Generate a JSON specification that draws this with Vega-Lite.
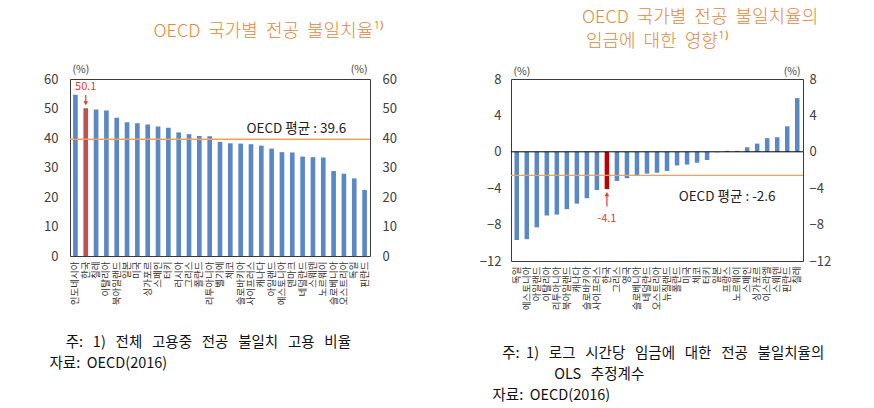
{
  "$schema": "https://vega.github.io/schema/vega-lite/v6.json",
  "background": "white",
  "padding": {"left": 43, "top": 8, "right": 0, "bottom": 0},
  "spacing": 81,
  "config": {
    "font": "Noto Sans CJK KR",
    "view": {"stroke": "#3a3a3a", "strokeWidth": 1},
    "axis": {"grid": false, "domain": false, "ticks": false, "labelFont": "Noto Sans CJK KR", "titleFont": "Noto Sans CJK KR", "labelColor": "#404040", "titleColor": "#404040", "titleFontWeight": "normal"},
    "title": {"font": "Noto Sans CJK KR", "fontWeight": 300, "color": "#E6873B", "fontSize": 18},
    "text": {"fontWeight": "normal", "font": "Noto Sans CJK KR"}
  },
  "hconcat": [
    {
      "width": 300,
      "height": 177,
      "title": {"text": "OECD\u00a0 국가별\u00a0 전공\u00a0 불일치율¹⁾", "anchor": "middle", "frame": "group", "dx": 49, "offset": 23},
      "data": {"values": [
        {"country": "인도네시아", "value": 54.7},
        {"country": "한국", "value": 50.1},
        {"country": "칠레", "value": 49.7},
        {"country": "이탈리아", "value": 49.3},
        {"country": "북아일랜드", "value": 46.9},
        {"country": "일본", "value": 45.3},
        {"country": "미국", "value": 45.0},
        {"country": "싱가포르", "value": 44.6},
        {"country": "스페인", "value": 43.9},
        {"country": "터키", "value": 43.5},
        {"country": "러시아", "value": 41.9},
        {"country": "그리스", "value": 41.3},
        {"country": "폴란드", "value": 40.7},
        {"country": "리투아니아", "value": 40.6},
        {"country": "벨기에", "value": 38.7},
        {"country": "체코", "value": 38.2},
        {"country": "슬로바키아", "value": 38.1},
        {"country": "사이프러스", "value": 37.9},
        {"country": "캐나다", "value": 37.4},
        {"country": "아일랜드", "value": 36.4},
        {"country": "에스토니아", "value": 35.2},
        {"country": "덴마크", "value": 35.1},
        {"country": "네덜란드", "value": 33.7},
        {"country": "스웨덴", "value": 33.5},
        {"country": "노르웨이", "value": 33.4},
        {"country": "슬로베니아", "value": 28.8},
        {"country": "오스트리아", "value": 27.9},
        {"country": "독일", "value": 26.3},
        {"country": "핀란드", "value": 22.4}
      ]},
      "resolve": {"axis": {"y": "independent"}},
      "layer": [
        {
          "mark": {"type": "bar"},
          "encoding": {
            "x": {"field": "country", "type": "nominal", "sort": null,
              "scale": {"paddingInner": 0.55, "paddingOuter": 0.3},
              "axis": {"labelAngle": 270, "labelFontSize": 9.5, "labelPadding": 5, "labelColor": "#333333",
                "title": ["\u200b\u00a0\u00a0\u00a0\u00a0\u00a0주:\u00a0\u00a0 1)\u00a0\u00a0 전체\u00a0\u00a0 고용중\u00a0\u00a0 전공\u00a0\u00a0 불일치\u00a0\u00a0 고용\u00a0\u00a0 비율", "자료:\u00a0 OECD(2016)"],
                "titleAnchor": "start", "titleAlign": "left", "titleX": -21, "titleY": 79, "titleBaseline": "top",
                "titleFontSize": 14.5, "titleColor": "#111111", "titleLineHeight": 21}},
            "y": {"field": "value", "type": "quantitative", "scale": {"domain": [0, 60]},
              "axis": {"orient": "left", "values": [0, 10, 20, 30, 40, 50, 60], "labelFontSize": 13, "labelPadding": 12,
                "title": "(%)", "titleAngle": 0, "titleAlign": "left", "titleBaseline": "middle", "titleX": 2, "titleY": -10, "titleFontSize": 10.5}},
            "color": {"condition": {"test": "datum.country === '한국'", "value": "#C0504D"}, "value": "#5A87C5"}
          }
        },
        {
          "data": {"values": [{}]},
          "mark": {"type": "rule", "color": "#F5A05A", "strokeWidth": 1.5},
          "encoding": {
            "y": {"datum": 39.6, "type": "quantitative",
              "axis": {"orient": "right", "values": [0, 10, 20, 30, 40, 50, 60], "labelFontSize": 13, "labelPadding": 12,
                "title": "(%)", "titleAngle": 0, "titleAlign": "right", "titleBaseline": "middle", "titleX": -3, "titleY": -10, "titleFontSize": 10.5}}
          }
        },
        {
          "data": {"values": [{}]},
          "mark": {"type": "text", "fontSize": 13.5, "fill": "#222222", "fontWeight": "normal", "baseline": "middle", "dy": -10, "dx": 4},
          "encoding": {
            "x": {"datum": "덴마크", "type": "nominal"},
            "y": {"datum": 39.6, "type": "quantitative", "axis": null},
            "text": {"value": "OECD 평균 : 39.6"}
          }
        },
        {
          "data": {"values": [{}]},
          "mark": {"type": "text", "fontSize": 11, "fill": "#E03C31", "fontWeight": "normal", "baseline": "middle"},
          "encoding": {
            "x": {"datum": "한국", "type": "nominal"},
            "y": {"datum": 57.4, "type": "quantitative", "axis": null},
            "text": {"value": "50.1"}
          }
        },
        {
          "data": {"values": [{}]},
          "mark": {"type": "rule", "color": "#E03C31", "strokeWidth": 1.2},
          "encoding": {
            "x": {"datum": "한국", "type": "nominal"},
            "y": {"datum": 54.6, "type": "quantitative", "axis": null},
            "y2": {"datum": 52.0}
          }
        },
        {
          "data": {"values": [{}]},
          "mark": {"type": "point", "shape": "triangle-down", "filled": true, "color": "#E03C31", "size": 22, "opacity": 1},
          "encoding": {
            "x": {"datum": "한국", "type": "nominal"},
            "y": {"datum": 51.8, "type": "quantitative", "axis": null}
          }
        }
      ]
    },
    {
      "width": 292,
      "height": 182,
      "title": {"text": ["OECD\u00a0 국가별\u00a0 전공\u00a0 불일치율의", "\u200b\u00a0임금에\u00a0 대한\u00a0 영향¹⁾"], "anchor": "start", "frame": "group", "dx": 71, "offset": 15, "lineHeight": 24},
      "data": {"values": [
        {"country": "독일", "value": -9.7},
        {"country": "에스토니아", "value": -9.6},
        {"country": "아일랜드", "value": -8.3},
        {"country": "이탈리아", "value": -7.0},
        {"country": "리투아니아", "value": -6.9},
        {"country": "북아일랜드", "value": -6.3},
        {"country": "캐나다", "value": -5.7},
        {"country": "슬로바키아", "value": -5.1},
        {"country": "사이프러스", "value": -4.2},
        {"country": "한국", "value": -4.1},
        {"country": "그리스", "value": -3.2},
        {"country": "영국", "value": -2.9},
        {"country": "슬로베니아", "value": -2.6},
        {"country": "네덜란드", "value": -2.4},
        {"country": "오스트리아", "value": -2.3},
        {"country": "뉴질랜드", "value": -2.1},
        {"country": "폴란드", "value": -1.5},
        {"country": "미국", "value": -1.4},
        {"country": "체코", "value": -1.2},
        {"country": "터키", "value": -0.9},
        {"country": "일본", "value": -0.05},
        {"country": "프랑스", "value": 0.1},
        {"country": "노르웨이", "value": 0.1},
        {"country": "스페인", "value": 0.5},
        {"country": "싱가포르", "value": 0.9},
        {"country": "이스라엘", "value": 1.5},
        {"country": "스웨덴", "value": 1.6},
        {"country": "핀란드", "value": 2.8},
        {"country": "칠레", "value": 5.9}
      ]},
      "resolve": {"axis": {"y": "independent"}},
      "layer": [
        {
          "mark": {"type": "bar"},
          "encoding": {
            "x": {"field": "country", "type": "nominal", "sort": null,
              "scale": {"paddingInner": 0.55, "paddingOuter": 0.35},
              "axis": {"labelAngle": 270, "labelFontSize": 9.5, "labelPadding": 5, "labelColor": "#333333",
                "title": ["\u200b\u00a0\u00a0\u00a0주:\u00a0 1)\u00a0\u00a0 로그\u00a0\u00a0 시간당\u00a0\u00a0 임금에\u00a0\u00a0 대한\u00a0\u00a0 전공\u00a0\u00a0 불일치율의", "\u200b\u00a0\u00a0\u00a0\u00a0\u00a0\u00a0\u00a0\u00a0\u00a0\u00a0\u00a0\u00a0\u00a0\u00a0\u00a0\u00a0\u00a0\u00a0\u00a0OLS\u00a0\u00a0 추정계수", "자료:\u00a0 OECD(2016)"],
                "titleAnchor": "start", "titleAlign": "left", "titleX": -19, "titleY": 85, "titleBaseline": "top",
                "titleFontSize": 14.5, "titleColor": "#111111", "titleLineHeight": 21}},
            "y": {"field": "value", "type": "quantitative", "scale": {"domain": [-12, 8]},
              "axis": {"orient": "left", "values": [8, 4, 0, -4, -8, -12], "labelFontSize": 13, "labelPadding": 10,
                "title": "(%)", "titleAngle": 0, "titleAlign": "left", "titleBaseline": "middle", "titleX": 2, "titleY": -8, "titleFontSize": 10.5}},
            "color": {"condition": {"test": "datum.country === '한국'", "value": "#C00000"}, "value": "#5A87C5"}
          }
        },
        {
          "data": {"values": [{}]},
          "mark": {"type": "rule", "color": "#000000", "strokeWidth": 1},
          "encoding": {
            "y": {"datum": 0, "type": "quantitative", "axis": null}
          }
        },
        {
          "data": {"values": [{}]},
          "mark": {"type": "rule", "color": "#F5A05A", "strokeWidth": 1.3},
          "encoding": {
            "y": {"datum": -2.6, "type": "quantitative",
              "axis": {"orient": "right", "values": [8, 4, 0, -4, -8, -12], "labelFontSize": 13, "labelPadding": 6,
                "title": "(%)", "titleAngle": 0, "titleAlign": "right", "titleBaseline": "middle", "titleX": -3, "titleY": -8, "titleFontSize": 10.5}}
          }
        },
        {
          "data": {"values": [{}]},
          "mark": {"type": "text", "fontSize": 13.5, "fill": "#222222", "fontWeight": "normal", "baseline": "middle"},
          "encoding": {
            "x": {"datum": "프랑스", "type": "nominal"},
            "y": {"datum": -5.0, "type": "quantitative", "axis": null},
            "text": {"value": "OECD 평균 : -2.6"}
          }
        },
        {
          "data": {"values": [{}]},
          "mark": {"type": "text", "fontSize": 11, "fill": "#E03C31", "fontWeight": "normal", "baseline": "middle"},
          "encoding": {
            "x": {"datum": "한국", "type": "nominal"},
            "y": {"datum": -7.4, "type": "quantitative", "axis": null},
            "text": {"value": "-4.1"}
          }
        },
        {
          "data": {"values": [{}]},
          "mark": {"type": "rule", "color": "#E03C31", "strokeWidth": 1.2},
          "encoding": {
            "x": {"datum": "한국", "type": "nominal"},
            "y": {"datum": -6.0, "type": "quantitative", "axis": null},
            "y2": {"datum": -4.8}
          }
        },
        {
          "data": {"values": [{}]},
          "mark": {"type": "point", "shape": "triangle-up", "filled": true, "color": "#E03C31", "size": 22, "opacity": 1},
          "encoding": {
            "x": {"datum": "한국", "type": "nominal"},
            "y": {"datum": -4.65, "type": "quantitative", "axis": null}
          }
        }
      ]
    }
  ]
}
